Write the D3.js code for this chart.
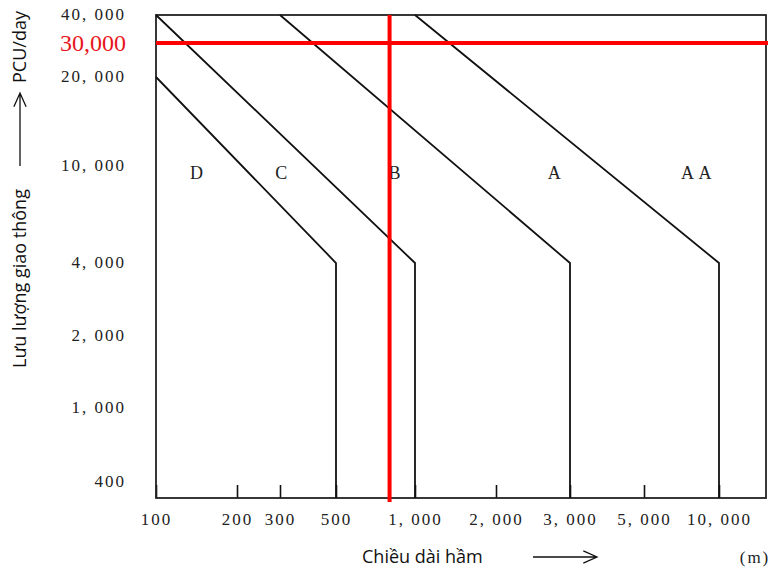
<!DOCTYPE html>
<html>
<head>
<meta charset="utf-8">
<script src="https://cdn.jsdelivr.net/npm/d3@7"></script>
<style>
  html, body { margin: 0; padding: 0; background: #fff; }
  svg { display: block; }
  .tick text { font-family: "Liberation Serif", "DejaVu Serif", serif; font-size: 17px; fill: #222; letter-spacing: 2px; }
  .title { font-family: "Open Sans", "Noto Sans", sans-serif; font-size: 18px; fill: #111; }
  .cls { font-family: "Liberation Serif", serif; font-size: 18px; fill: #222; letter-spacing: 1px; }
</style>
</head>
<body>
<svg id="chart" width="771" height="572"></svg>
<script>
// Tunnel length (m) and daily traffic (PCU/day) graduations
const lengthTicks = [100, 200, 300, 500, 1000, 2000, 3000, 5000, 10000];
const trafficTicks = [400, 1000, 2000, 4000, 10000, 20000, 40000];

// Class boundaries as [length, traffic] polylines (Q·L constant, then vertical below 4,000)
const boundaryDC = [[100, 20000], [500, 4000], [500, 330]];
const boundaryCB = [[100, 40000], [1000, 4000], [1000, 330]];
const boundaryBA = [[300, 40000], [3000, 4000], [3000, 330]];
const boundaryAAA = [[1000, 40000], [10000, 4000], [10000, 330]];

// Class names and the point (length, traffic) each one is written at
const classNames = ["D", "C", "B", "A", "A A"];
const classLength = [142, 305, 840, 2760, 8150];
const classTraffic = [9400, 9400, 9400, 9400, 9400];

// Example tunnel marked in red
const markerLength = 800;
const markerTraffic = 30000;

const svg = d3.select("#chart");

// The graph paper is hand-graduated: each decade is spaced a little differently,
// so the log scales are piecewise between the labelled graduations.
const x = d3.scaleLog()
  .domain([100, 200, 300, 500, 1000, 2000, 3000, 5000, 10000, 14000])
  .range([156, 237, 280, 336, 415, 496, 570, 644, 719, 766]);
const y = d3.scaleLog()
  .domain([330, 400, 1000, 4000, 10000, 20000, 30000, 40000])
  .range([498, 482, 408, 263, 166, 77, 43, 15]);

const [x0, x1] = [x(100), x(14000)];
const [yTop, yBot] = [y(40000), y(330)];

const fmt = v => d3.format(",")(v).replace(",", ", ");

// Bottom axis: short inward ticks
const gx = svg.append("g")
  .attr("transform", `translate(0,${yBot})`)
  .call(d3.axisBottom(x).tickValues(lengthTicks).tickSize(-13).tickPadding(15).tickFormat(fmt));
gx.select(".domain").remove();
gx.selectAll(".tick line").attr("stroke", "#111").attr("stroke-width", 1.6);

// Left axis: labels only
const gy = svg.append("g")
  .attr("transform", `translate(${x0},0)`)
  .call(d3.axisLeft(y).tickValues(trafficTicks).tickSize(0).tickPadding(30).tickFormat(fmt));
gy.select(".domain").remove();
gy.selectAll(".tick text").attr("dy", "0.28em");

// Frame
svg.append("rect")
  .attr("x", x0).attr("y", yTop)
  .attr("width", x1 - x0).attr("height", yBot - yTop)
  .attr("fill", "none").attr("stroke", "#222").attr("stroke-width", 1.8);

// Boundaries between classes
const line = d3.line().x(d => x(d[0])).y(d => y(d[1]));
svg.append("g").selectAll("path")
  .data([boundaryDC, boundaryCB, boundaryBA, boundaryAAA])
  .join("path")
  .attr("d", line)
  .attr("fill", "none")
  .attr("stroke", "#111")
  .attr("stroke-width", 1.8);

// Class names
svg.append("g").selectAll("text")
  .data(classNames)
  .join("text")
  .attr("class", "cls")
  .attr("x", (d, i) => x(classLength[i]))
  .attr("y", (d, i) => y(classTraffic[i]))
  .attr("text-anchor", "middle")
  .attr("dy", "0.35em")
  .text(d => d);

// Red marker lines
svg.append("line")
  .attr("x1", x0).attr("x2", x1 + 2)
  .attr("y1", y(markerTraffic)).attr("y2", y(markerTraffic))
  .attr("stroke", "#f00").attr("stroke-width", 4);
svg.append("line")
  .attr("x1", x(markerLength)).attr("x2", x(markerLength))
  .attr("y1", yTop).attr("y2", yBot + 4)
  .attr("stroke", "#f00").attr("stroke-width", 4);
svg.append("text")
  .attr("x", x0 - 30).attr("y", y(markerTraffic))
  .attr("dy", "0.33em")
  .attr("text-anchor", "end")
  .attr("font-family", "Liberation Serif, serif")
  .attr("font-size", 24)
  .attr("fill", "#e8141b")
  .text(d3.format(",")(markerTraffic));

// Axis titles with arrows
const arrow = (g, xa, ya, xb, yb) => {
  const ang = Math.atan2(yb - ya, xb - xa), L = 15, W = 0.42;
  g.append("path")
    .attr("d", `M${xa},${ya}L${xb},${yb}` +
      `M${xb - L * Math.cos(ang - W)},${yb - L * Math.sin(ang - W)}L${xb},${yb}` +
      `L${xb - L * Math.cos(ang + W)},${yb - L * Math.sin(ang + W)}`)
    .attr("fill", "none").attr("stroke", "#111").attr("stroke-width", 1.3);
};

svg.append("text").attr("class", "title")
  .attr("x", 362).attr("y", 557).attr("dy", "0.35em")
  .text("Chiều dài hầm");
arrow(svg, 533, 557, 597, 557);
svg.append("text")
  .attr("x", 755).attr("y", 557).attr("dy", "0.35em")
  .attr("text-anchor", "middle")
  .attr("font-family", "Liberation Serif, serif").attr("font-size", 17).attr("fill", "#222")
  .attr("letter-spacing", 2)
  .text("(m)");

svg.append("text").attr("class", "title")
  .attr("transform", "translate(20,368) rotate(-90)")
  .attr("dy", "0.35em")
  .text("Lưu lượng giao thông");
arrow(svg, 20, 166, 20, 93);
svg.append("text").attr("class", "title")
  .attr("transform", "translate(20,83) rotate(-90)")
  .attr("dy", "0.35em")
  .text("PCU/day");
</script>
</body>
</html>
